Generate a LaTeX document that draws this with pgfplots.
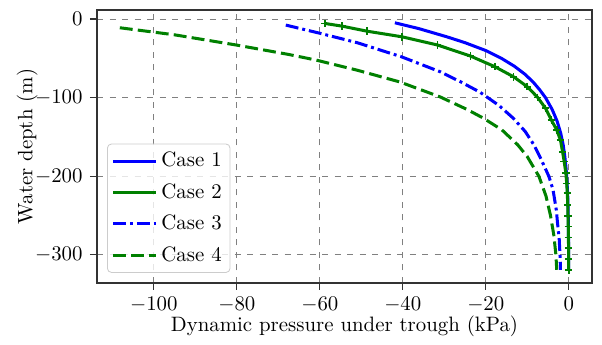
\documentclass[border=0pt]{standalone}
\usepackage{pgfplots}
\pgfplotsset{compat=1.18}
\definecolor{mgreen}{RGB}{0,128,0}
\definecolor{mblue}{RGB}{0,0,255}
\begin{document}
\begin{tikzpicture}
\begin{axis}[
  name=ax,
  scale only axis,
  width=237.6pt, height=131pt,
  xmin=-113.7, xmax=5.6,
  ymin=-335.7, ymax=11.6,
  xtick={-100,-80,-60,-40,-20,0},
  ytick={-300,-200,-100,0},
  tick align=outside,
  xtick pos=left, ytick pos=left,
  major tick length=3.4pt,
  tick style={black!80, line width=0.6pt},
  axis line style={black!80, line width=0.6pt},
  grid=major,
  major grid style={dashed, gray, line width=0.5pt},
  xlabel={Dynamic pressure under trough (kPa)},
  ylabel={Water depth (m)},
  xlabel style={at={(axis description cs:0.5,-0.160)}, anchor=center},
  ylabel style={at={(axis description cs:-0.141,0.5)}, anchor=center},
  legend cell align=left,
  legend style={at={(rel axis cs:0,0)}, xshift=4.8pt, yshift=4.8pt, anchor=south west,
    draw=black!20, rounded corners=2pt, fill=white, fill opacity=0.8, text opacity=1,
    inner sep=2pt, row sep=2.5pt,
    /tikz/every even column/.append style={column sep=2pt}},
  legend image code/.code={\draw[#1] (0cm,0cm) -- (0.72cm,0cm);},
]
% Case 1
\addplot[mblue, line width=1.45pt] coordinates {
(-41.9,-4.7) (-36.2,-12) (-29.4,-22.5) (-25.0,-30) (-20.0,-40) (-16.2,-50)
(-13.1,-60) (-10.6,-70) (-8.6,-80) (-7.0,-90) (-5.6,-100) (-4.0,-115)
(-2.8,-130) (-1.95,-145) (-1.35,-160) (-0.95,-175) (-0.65,-190) (-0.45,-205)
(-0.25,-225) (-0.13,-250) (-0.06,-280) (-0.02,-318)
};
\addlegendentry{Case 1}
% Case 2
\addplot[mgreen, line width=1.45pt, mark=+, mark size=1.8pt, mark options={line width=0.8pt}] coordinates {
(-58.8,-5.5) (-54.7,-8.9) (-48.7,-15.3) (-40.2,-22.5) (-31.6,-33) (-23.7,-47)
(-17.8,-60.6) (-13.3,-73.4) (-10.0,-86) (-7.5,-99.6) (-5.6,-113.5) (-4.2,-128.4)
(-2.9,-141) (-2.0,-154) (-1.5,-168.7) (-1.1,-181.4) (-0.7,-196) (-0.5,-209)
(-0.35,-221.6) (-0.25,-236.5) (-0.18,-250.5) (-0.12,-264) (-0.08,-278)
(-0.05,-291.6) (-0.03,-305.6) (-0.02,-319)
};
\addlegendentry{Case 2}
% Case 3
\addplot[mblue, line width=1.45pt, dash pattern=on 6.2pt off 1.9pt on 1.4pt off 1.9pt] coordinates {
(-68.2,-7.6) (-60,-18) (-51,-30) (-40.3,-48) (-31,-67) (-26,-80) (-21.4,-93)
(-16.8,-110) (-13.4,-126) (-10.5,-143) (-8.4,-160) (-6.8,-177) (-4.8,-200)
(-3.8,-217) (-3.0,-243) (-2.7,-260) (-2.3,-280) (-2.1,-302) (-2.0,-319)
};
\addlegendentry{Case 3}
% Case 4
\addplot[mgreen, line width=1.45pt, dash pattern=on 6.2pt off 2.5pt] coordinates {
(-108.2,-11) (-95,-20) (-80.1,-33) (-67.5,-45) (-61,-52) (-51,-65) (-40.7,-80)
(-31,-99) (-24.5,-115) (-20.6,-126) (-16.1,-141) (-12.3,-160) (-10,-175)
(-7.2,-200) (-5.5,-225) (-4.4,-250) (-3.6,-275) (-3.1,-300) (-2.9,-319)
};
\addlegendentry{Case 4}
\end{axis}
\path[use as bounding box] ([xshift=-46.56pt,yshift=-29.76pt]ax.south west) rectangle ([xshift=4.8pt,yshift=4.8pt]ax.north east);
\end{tikzpicture}
\end{document}
